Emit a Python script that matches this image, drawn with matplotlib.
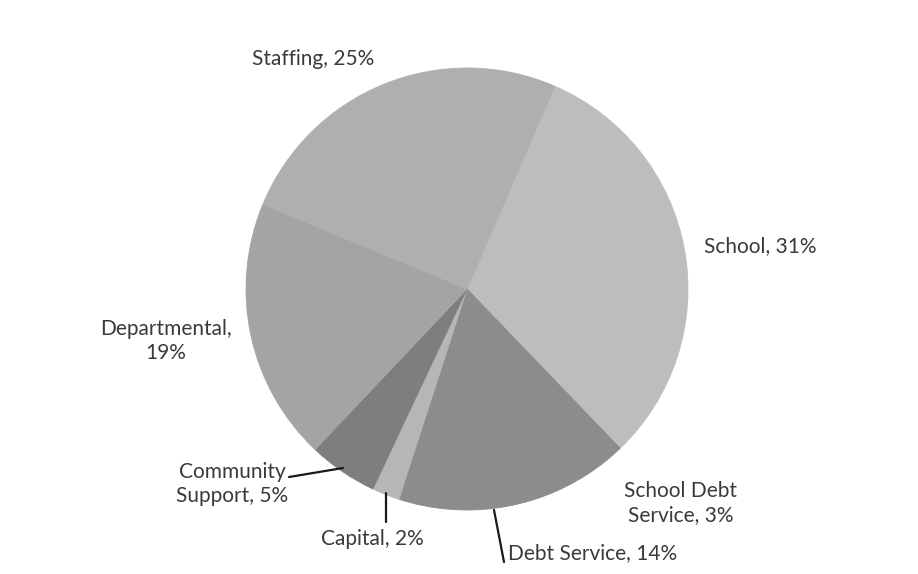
import matplotlib.pyplot as plt

plt.rcParams['font.family'] = ['Lato', 'DejaVu Sans']

categories = ['School', 'School Debt\nService', 'Debt Service', 'Capital',
              'Community\nSupport', 'Departmental,\n', 'Staffing']
shares = [31, 3, 14, 2, 5, 19, 25]
labels = ['School, 31%', 'School Debt\nService, 3%', 'Debt Service, 14%',
          'Capital, 2%', 'Community\nSupport, 5%', 'Departmental,\n19%',
          'Staffing, 25%']
colors = ['#bdbdbd', '#8c8c8c', '#8c8c8c', '#b6b6b6', '#7e7e7e',
          '#a4a4a4', '#afafaf']

W, H = 918, 574
cx, cy, r = 467, 289, 221

fig = plt.figure(figsize=(W / 100, H / 100), dpi=100)
ax = fig.add_axes([(cx - r) / W, (H - cy - r) / H, 2 * r / W, 2 * r / H])

wedges, _ = ax.pie(shares, colors=colors, startangle=66.6, counterclock=False)
for w, c in zip(wedges, colors):
    w.set_edgecolor(c)  # hide the anti-alias seams between wedges
    w.set_linewidth(0.6)
ax.set_xlim(-1, 1)
ax.set_ylim(-1, 1)


def p(px, py):
    # pixel position in the picture -> pie data units
    return (px - cx) / r, (cy - py) / r


txt = dict(fontsize=15, color='#3a3a3a', linespacing=1.3)

ax.text(*p(313, 59), labels[6], ha='center', va='center', **txt)
ax.text(*p(704, 246), labels[0], ha='left', va='center', **txt)
ax.text(*p(166, 341), labels[5], ha='center', va='center', **txt)
ax.text(*p(681, 503), labels[1], ha='center', va='center', **txt)

line = dict(arrowstyle='-', color='#1a1a1a', lw=1.6, shrinkA=0, shrinkB=0)
ax.annotate('', xy=p(343, 468), xytext=p(289, 477), arrowprops=line)
ax.text(*p(232, 484), labels[4], ha='center', va='center', **txt)
ax.annotate('', xy=p(386, 493), xytext=p(386, 522), arrowprops=line)
ax.text(*p(372, 539), labels[3], ha='center', va='center', **txt)
ax.annotate('', xy=p(494, 510), xytext=p(504, 562), arrowprops=line)
ax.text(*p(508, 553), labels[2], ha='left', va='center', **txt)

fig.savefig('out.png', dpi=100, facecolor='white')
